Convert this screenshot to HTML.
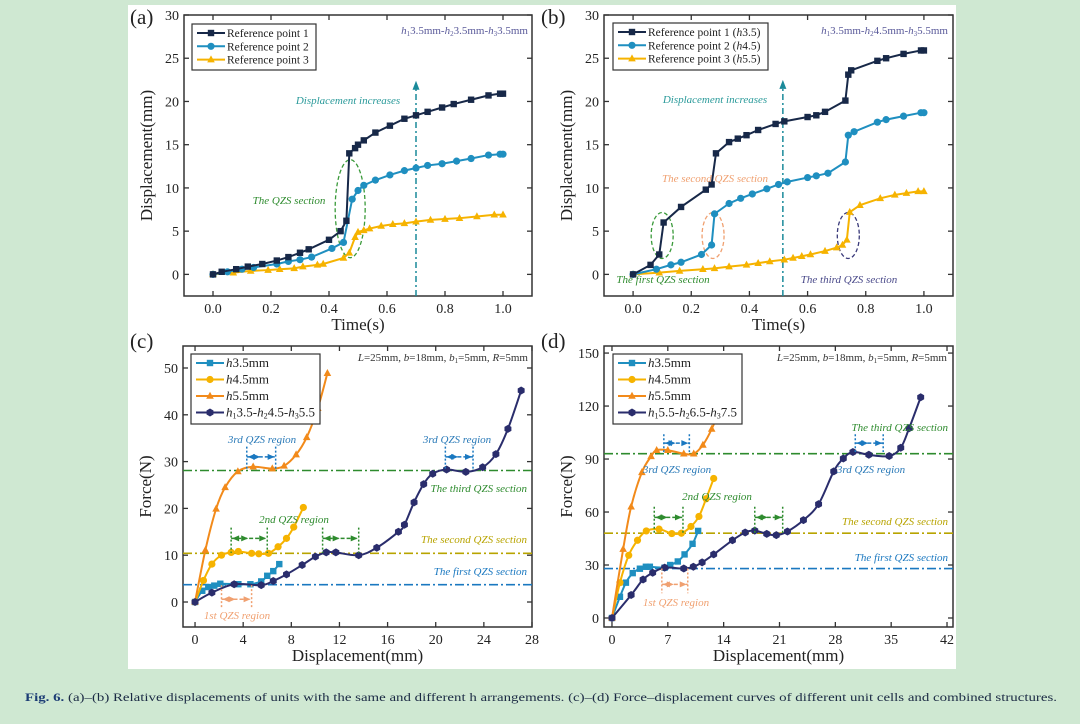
<!DOCTYPE html>
<html><head><meta charset="utf-8">
<style>
html,body{margin:0;padding:0;background:#cfe8d2;}
svg{display:block;font-family:"Liberation Serif",serif;}
</style></head>
<body>
<svg id="fig" width="1080" height="724" viewBox="0 0 1080 724" xmlns="http://www.w3.org/2000/svg">
<rect x="0" y="0" width="1080" height="724" fill="#cfe8d2"/>
<rect x="128" y="5" width="828" height="664" fill="#ffffff"/>
<text x="25" y="701" font-size="12" fill="#1b2a44" textLength="1032" lengthAdjust="spacingAndGlyphs"><tspan font-weight="bold" fill="#1d3d75">Fig. 6.</tspan>  (a)–(b) Relative displacements of units with the same and different h arrangements. (c)–(d) Force–displacement curves of different unit cells and combined structures.</text>
<g id="layer"></g>
</svg>
<script>
// ---------- Panel (a) data ----------
const aT1=[0,0.03,0.08,0.12,0.17,0.22,0.26,0.3,0.33,0.4,0.44,0.46,0.47,0.49,0.5,0.52,0.56,0.61,0.66,0.7,0.74,0.79,0.83,0.89,0.95,0.99,1.0];
const aY1=[0,0.3,0.6,0.9,1.2,1.6,2.0,2.5,2.9,4.0,5.0,6.2,14.0,14.6,15.0,15.5,16.4,17.2,18.0,18.4,18.8,19.3,19.7,20.2,20.7,20.9,20.9];
const aT2=[0,0.05,0.1,0.14,0.22,0.26,0.3,0.34,0.41,0.45,0.48,0.5,0.52,0.56,0.61,0.66,0.7,0.74,0.79,0.84,0.89,0.95,0.99,1.0];
const aY2=[0,0.3,0.6,0.8,1.2,1.5,1.7,2.0,3.0,3.7,8.7,9.7,10.3,10.9,11.5,12.0,12.3,12.6,12.8,13.1,13.4,13.8,13.9,13.9];
const aT3=[0,0.07,0.13,0.19,0.23,0.28,0.31,0.36,0.38,0.45,0.47,0.49,0.5,0.52,0.54,0.58,0.62,0.66,0.7,0.75,0.8,0.85,0.91,0.97,1.0];
const aY3=[0,0.2,0.4,0.5,0.6,0.7,0.9,1.1,1.2,1.9,2.5,4.3,4.9,5.1,5.3,5.6,5.8,5.9,6.1,6.3,6.4,6.5,6.7,6.9,6.9];
// ---------- Panel (b) data ----------
const bT1=[0,0.06,0.09,0.105,0.165,0.25,0.27,0.285,0.33,0.36,0.39,0.43,0.49,0.52,0.6,0.63,0.66,0.73,0.74,0.75,0.84,0.87,0.93,0.99,1.0];
const bY1=[0,1.1,2.3,6.0,7.8,9.8,10.4,14.0,15.3,15.7,16.1,16.7,17.4,17.7,18.2,18.4,18.8,20.1,23.1,23.6,24.7,25.0,25.5,25.9,25.9];
const bT2=[0,0.08,0.13,0.165,0.235,0.27,0.28,0.33,0.37,0.41,0.46,0.5,0.53,0.6,0.63,0.67,0.73,0.74,0.76,0.84,0.87,0.93,0.99,1.0];
const bY2=[0,0.6,1.1,1.4,2.3,3.4,7.0,8.2,8.8,9.3,9.9,10.4,10.7,11.2,11.4,11.7,13.0,16.1,16.5,17.6,17.9,18.3,18.7,18.7];
const bT3=[0,0.09,0.16,0.24,0.28,0.33,0.39,0.43,0.47,0.52,0.55,0.58,0.61,0.66,0.7,0.72,0.735,0.745,0.78,0.85,0.9,0.94,0.98,1.0];
const bY3=[0,0.2,0.4,0.6,0.7,0.9,1.1,1.3,1.5,1.7,1.9,2.1,2.3,2.7,3.1,3.4,4.0,7.2,8.0,8.8,9.2,9.4,9.6,9.6];
// ---------- Panel (c) data ----------
const cX1=[0,0.6,1.1,1.6,2.1,3.6,4.6,5.5,6.0,6.5,7.0];
const cF1=[0,2.4,3.2,3.5,3.9,3.8,3.8,4.4,5.6,6.6,8.1];
const cX2=[0,0.7,1.4,2.2,3.0,3.6,4.7,5.3,6.1,6.9,7.6,8.2,9.0];
const cF2=[0,4.6,8.1,10.0,10.6,10.8,10.4,10.3,10.4,11.8,13.6,16.0,20.2];
const cX3=[0,0.86,1.75,2.5,3.56,4.83,6.42,7.4,8.4,9.28,10.2,11.0];
const cF3=[0,11.1,19.9,24.5,27.9,28.9,28.5,29.1,31.5,35.2,41.4,48.9];
const cX4=[0,1.4,3.25,5.5,6.5,7.6,8.9,10.0,10.9,11.7,13.6,15.1,16.9,17.4,18.2,19.0,19.75,20.9,22.5,23.9,25.0,26.0,27.1];
const cF4=[0,2.0,3.8,3.6,4.5,5.9,7.9,9.7,10.6,10.6,10.0,11.6,15.0,16.5,21.3,25.2,27.4,28.3,27.8,28.8,31.6,37.0,45.2];
const cSections=[3.7,10.4,28.1];
// ---------- Panel (d) data ----------
const dX1=[0,1.0,1.75,2.6,3.5,4.25,4.75,6.6,7.3,8.25,9.1,10.1,10.8];
const dF1=[0,12,20,25.4,27.9,29,29,28.5,30,32,36,42,49.3];
const dX2=[0,1.0,2.1,3.2,4.3,5.9,7.5,8.7,9.9,10.9,11.8,12.75];
const dF2=[0,20,35.5,44,49.3,50.3,47.8,48,51.8,57.5,67.5,79];
const dX3=[0,1.4,2.4,3.75,4.9,5.6,7.0,9.0,10.25,11.4,12.5,13.75,14.8];
const dF3=[0,39,63,82.5,91.5,95,95,93,93,98,107,121,139.5];
const dX4=[0,2.4,3.9,5.1,6.6,9.0,10.2,11.3,12.75,15.1,16.7,17.9,19.4,20.6,22.0,24.0,25.9,27.8,29.0,30.2,32.2,34.75,36.2,37.25,38.7];
const dF4=[0,13,21.8,25.6,28.5,28,29,31.5,36,44,48.4,49.5,47.6,46.9,49,55.4,64.5,83,90.3,94,92.4,91.7,96.4,107.4,125];
const dSections=[28,48,93];
// ---------- ticks ----------
const abXTicks=[0,0.2,0.4,0.6,0.8,1.0];
const abXLabels=["0.0","0.2","0.4","0.6","0.8","1.0"];
const abYTicks=[0,5,10,15,20,25,30];
const cXTicks=[0,4,8,12,16,20,24,28];
const cYTicks=[0,10,20,30,40,50];
const dXTicks=[0,7,14,21,28,35,42];
const dYTicks=[0,30,60,90,120,150];

const NS="http://www.w3.org/2000/svg";
const layer=document.getElementById('layer');
function mk(tag,attrs,parent,name,inter){
  const e=document.createElementNS(NS,tag);
  for(const k in attrs) e.setAttribute(k,attrs[k]);
  
  
  (parent||layer).appendChild(e);return e;
}
function axes(L,R,T,B,x0,x1,y0,y1){
  return {sx:v=>L+(v-x0)/(x1-x0)*(R-L), sy:v=>B-(v-y0)/(y1-y0)*(B-T), L,R,T,B};
}
function marker(g,type,x,y,col,name){
  const s=3.2;
  if(type==='sq') mk('rect',{x:x-s,y:y-s,width:2*s,height:2*s,fill:col},g,name);
  else if(type==='ci') mk('circle',{cx:x,cy:y,r:s+0.4,fill:col},g,name);
  else if(type==='tr') mk('polygon',{points:`${x},${y-s-1} ${x-s-0.6},${y+s-0.4} ${x+s+0.6},${y+s-0.4}`,fill:col},g,name);
  else if(type==='hx'){let p=[];for(let i=0;i<6;i++){const a=Math.PI/3*i+Math.PI/6;p.push((x+(s+0.8)*Math.cos(a))+','+(y+(s+0.8)*Math.sin(a)));}mk('polygon',{points:p.join(' '),fill:col},g,name);}
}
function smoothPath(pts){
  let d='M'+pts[0][0]+','+pts[0][1];
  for(let i=0;i<pts.length-1;i++){
    const p0=pts[Math.max(0,i-1)],p1=pts[i],p2=pts[i+1],p3=pts[Math.min(pts.length-1,i+2)];
    const t=1/6;
    d+=` C${p1[0]+(p2[0]-p0[0])*t},${p1[1]+(p2[1]-p0[1])*t} ${p2[0]-(p3[0]-p1[0])*t},${p2[1]-(p3[1]-p1[1])*t} ${p2[0]},${p2[1]}`;
  }
  return d;
}
function series(ax,xs,ys,col,type,name,smooth){
  const g=mk('g',{},layer,name);
  const pts=xs.map((x,i)=>[ax.sx(x),ax.sy(ys[i])]);
  if(smooth) mk('path',{d:smoothPath(pts),fill:'none',stroke:col,'stroke-width':2},g,name+'-line');
  else mk('polyline',{points:pts.map(p=>p.join(',')).join(' '),fill:'none',stroke:col,'stroke-width':2},g,name+'-line');
  pts.forEach(p=>{marker(g,type,p[0],p[1],col,name+'-point');});
}
function text(x,y,str,opt,name){
  const t=mk('text',Object.assign({x,y,'font-size':13,fill:'#222'},opt||{}),layer,name);
  t.innerHTML=str;return t;
}
function frame(ax,xt,xl,yt,ylab,xtitle,ytitle,pfx){
  mk('rect',{x:ax.L,y:ax.T,width:ax.R-ax.L,height:ax.B-ax.T,fill:'none',stroke:'#333','stroke-width':1.5},layer,pfx+'-plot-frame');
  xt.forEach((v,i)=>{const x=ax.sx(v);
    mk('line',{x1:x,y1:ax.B,x2:x,y2:ax.B-5,stroke:'#333','stroke-width':1.3},layer,pfx+'-x-tick');
    mk('line',{x1:x,y1:ax.T,x2:x,y2:ax.T+5,stroke:'#333','stroke-width':1.3},layer,pfx+'-x-tick-top');
    text(x,ax.B+17,xl[i],{'text-anchor':'middle','font-size':14},pfx+'-x-tick-label');});
  yt.forEach((v,i)=>{const y=ax.sy(v);
    mk('line',{x1:ax.L,y1:y,x2:ax.L+5,y2:y,stroke:'#333','stroke-width':1.3},layer,pfx+'-y-tick');
    mk('line',{x1:ax.R,y1:y,x2:ax.R-5,y2:y,stroke:'#333','stroke-width':1.3},layer,pfx+'-y-tick-right');
    text(ax.L-5,y+5,ylab[i],{'text-anchor':'end','font-size':14},pfx+'-y-tick-label');});
  text((ax.L+ax.R)/2,ax.B+34,xtitle,{'text-anchor':'middle','font-size':17},pfx+'-x-axis-title');
  const cy=(ax.T+ax.B)/2;
  text(0,0,ytitle,{'text-anchor':'middle','font-size':17,transform:`translate(${ax.L-32},${cy}) rotate(-90)`},pfx+'-y-axis-title');
}
function legend(x,y,w,h,items,pfx,fs){
  mk('rect',{x,y,width:w,height:h,fill:'#fff',stroke:'#333','stroke-width':1.2},layer,pfx+'-legend-box');
  items.forEach((it,i)=>{const yy=y+9+i*(fs?16.5:13.3);
    mk('line',{x1:x+5,y1:yy,x2:x+33,y2:yy,stroke:it[1],'stroke-width':2},layer,pfx+'-legend-line');
    marker(layer,it[2],x+19,yy,it[1],pfx+'-legend-marker');
    text(x+35,yy+4,it[0],{'font-size':fs||11.5,fill:'#222'},pfx+'-legend-entry');});
}
const NAVY='#172848',BLUE='#1f8fc0',YEL='#f6b300',ORG='#f28a1a',CNAVY='#2a2d6c';
const tealTxt='#2a9a9a',grn='#2e8b2e',orgTxt='#f0a070',purp='#4a4a8a';
function dashLine(ax,x,ytop,col,name){
  mk('line',{x1:ax.sx(x),y1:ax.B,x2:ax.sx(x),y2:ax.sy(ytop)+6,stroke:col,'stroke-width':1.5,'stroke-dasharray':'6 3 2 3'},layer,name);
  const X=ax.sx(x),Y=ax.sy(ytop);
  mk('polygon',{points:`${X},${Y} ${X-3.5},${Y+9} ${X+3.5},${Y+9}`,fill:col},layer,name+'-head');
}
function ellipse(ax,cx,cy,rx,ry,col,name){
  mk('ellipse',{cx:ax.sx(cx),cy:ax.sy(cy),rx:rx,ry:ry,fill:'none',stroke:col,'stroke-width':1.3,'stroke-dasharray':'4 2.5'},layer,name);
}

// ===== Panel (a) =====
const A=axes(184,532,15,296,-0.1,1.1,-2.5,30);
frame(A,abXTicks,abXLabels,abYTicks,abYTicks.map(String),'Time(s)','Displacement(mm)','a');
text(130,24,'(a)',{'font-size':21},'panel-label-a');
dashLine(A,0.7,22.4,'#1a8a9a','a-displacement-arrow');
ellipse(A,0.473,7.6,15,49,'#3a9a3a','a-qzs-ellipse');
series(A,aT3,aY3,YEL,'tr','a-reference-point-3');
series(A,aT2,aY2,BLUE,'ci','a-reference-point-2');
series(A,aT1,aY1,NAVY,'sq','a-reference-point-1');
text(348,104,'Displacement increases',{'font-size':11,'font-style':'italic',fill:tealTxt,'text-anchor':'middle'},'a-displacement-increases-label');
text(289,204,'The QZS section',{'font-size':11,'font-style':'italic',fill:grn,'text-anchor':'middle'},'a-qzs-section-label');
text(528,34,'<tspan font-style="italic">h</tspan><tspan font-size="7" dy="2">1</tspan><tspan dy="-2">3.5mm-</tspan><tspan font-style="italic">h</tspan><tspan font-size="7" dy="2">2</tspan><tspan dy="-2">3.5mm-</tspan><tspan font-style="italic">h</tspan><tspan font-size="7" dy="2">3</tspan><tspan dy="-2">3.5mm</tspan>',{'font-size':11,fill:'#5a5a9a','text-anchor':'end'},'a-config-label');
legend(192,24,124,46,[['Reference point 1',NAVY,'sq'],['Reference point 2',BLUE,'ci'],['Reference point 3',YEL,'tr']],'a');

// ===== Panel (b) =====
const Bx=axes(604,953,15,296,-0.1,1.1,-2.5,30);
frame(Bx,abXTicks,abXLabels,abYTicks,abYTicks.map(String),'Time(s)','Displacement(mm)','b');
text(541,24,'(b)',{'font-size':21},'panel-label-b');
dashLine(Bx,0.515,22.5,'#1a8a9a','b-displacement-arrow');
ellipse(Bx,0.1,4.5,11,23,'#3a9a3a','b-first-qzs-ellipse');
ellipse(Bx,0.275,4.5,11,23,'#f0a070','b-second-qzs-ellipse');
ellipse(Bx,0.74,4.5,11,23,'#3a3a7a','b-third-qzs-ellipse');
series(Bx,bT3,bY3,YEL,'tr','b-reference-point-3');
series(Bx,bT2,bY2,BLUE,'ci','b-reference-point-2');
series(Bx,bT1,bY1,NAVY,'sq','b-reference-point-1');
text(715,103,'Displacement increases',{'font-size':11,'font-style':'italic',fill:tealTxt,'text-anchor':'middle'},'b-displacement-increases-label');
text(715,182,'The second QZS section',{'font-size':11,'font-style':'italic',fill:orgTxt,'text-anchor':'middle'},'b-second-qzs-label');
text(663,283,'The first QZS section',{'font-size':11,'font-style':'italic',fill:grn,'text-anchor':'middle'},'b-first-qzs-label');
text(849,283,'The third QZS section',{'font-size':11,'font-style':'italic',fill:purp,'text-anchor':'middle'},'b-third-qzs-label');
text(948,34,'<tspan font-style="italic">h</tspan><tspan font-size="7" dy="2">1</tspan><tspan dy="-2">3.5mm-</tspan><tspan font-style="italic">h</tspan><tspan font-size="7" dy="2">2</tspan><tspan dy="-2">4.5mm-</tspan><tspan font-style="italic">h</tspan><tspan font-size="7" dy="2">3</tspan><tspan dy="-2">5.5mm</tspan>',{'font-size':11,fill:'#5a5a9a','text-anchor':'end'},'b-config-label');
legend(613,23,155,47,[['Reference point 1 (<tspan font-style="italic">h</tspan>3.5)',NAVY,'sq'],['Reference point 2 (<tspan font-style="italic">h</tspan>4.5)',BLUE,'ci'],['Reference point 3 (<tspan font-style="italic">h</tspan>5.5)',YEL,'tr']],'b');

// ===== helpers for c/d =====
function hline(ax,y,col,name){
  mk('line',{x1:ax.L,y1:ax.sy(y),x2:ax.R,y2:ax.sy(y),stroke:col,'stroke-width':1.6,'stroke-dasharray':'9 3 2 3'},layer,name);
}
function bracket(ax,x1,x2,ytop,ybot,yarr,col,name){
  [x1,x2].forEach(x=>mk('line',{x1:ax.sx(x),y1:ax.sy(ytop),x2:ax.sx(x),y2:ax.sy(ybot),stroke:col,'stroke-width':1.5,'stroke-dasharray':'2 2'},layer,name+'-edge'));
  const X1=ax.sx(x1),X2=ax.sx(x2),Y=ax.sy(yarr),M=(X1+X2)/2;
  mk('line',{x1:X1,y1:Y,x2:X2,y2:Y,stroke:col,'stroke-width':1.5,'stroke-dasharray':'4 2'},layer,name+'-span');
  mk('polygon',{points:`${X1+1},${Y} ${X1+8},${Y-3} ${X1+8},${Y+3}`,fill:col},layer,name+'-arrow-left');
  mk('polygon',{points:`${X2-1},${Y} ${X2-8},${Y-3} ${X2-8},${Y+3}`,fill:col},layer,name+'-arrow-right');
  mk('polygon',{points:`${M-1},${Y} ${M-8},${Y-3} ${M-8},${Y+3}`,fill:col},layer,name+'-arrow-mid');
}
function it(x,y,s,col,anchor,name){text(x,y,s,{'font-size':11,'font-style':'italic',fill:col,'text-anchor':anchor||'middle'},name);}
const paramTxt='<tspan font-style="italic">L</tspan>=25mm, <tspan font-style="italic">b</tspan>=18mm, <tspan font-style="italic">b</tspan><tspan font-size="7" dy="2">1</tspan><tspan dy="-2">=5mm, </tspan><tspan font-style="italic">R</tspan>=5mm';

// ===== Panel (c) =====
const C=axes(183,532,346,627,-1,28,-5.34,54.7);
frame(C,cXTicks,cXTicks.map(String),cYTicks,cYTicks.map(String),'Displacement(mm)','Force(N)','c');
text(130,348,'(c)',{'font-size':21},'panel-label-c');
hline(C,cSections[2],'#2e8b2e','c-third-qzs-line');
hline(C,cSections[1],'#b8a400','c-second-qzs-line');
hline(C,cSections[0],'#1a78c0','c-first-qzs-line');
series(C,cX1,cF1,BLUE,'sq','c-h3.5-series',true);
series(C,cX2,cF2,YEL,'ci','c-h4.5-series',true);
series(C,cX3,cF3,ORG,'tr','c-h5.5-series',true);
series(C,cX4,cF4,CNAVY,'hx','c-combined-series',true);
bracket(C,4.3,6.7,33.2,28.3,31.0,'#1a78c0','c-3rd-qzs-bracket-1');
bracket(C,20.8,23.1,33.2,28.3,31.0,'#1a78c0','c-3rd-qzs-bracket-2');
bracket(C,3.0,6.0,15.9,10.5,13.6,'#2e8b2e','c-2nd-qzs-bracket-1');
bracket(C,10.6,13.6,15.9,10.5,13.6,'#2e8b2e','c-2nd-qzs-bracket-2');
bracket(C,2.2,4.7,3.6,-1.5,0.6,'#f0a070','c-1st-qzs-bracket');
it(262,443,'3rd QZS region','#2a7ab8','middle','c-3rd-qzs-label-1');
it(457,443,'3rd QZS region','#2a7ab8','middle','c-3rd-qzs-label-2');
it(294,523,'2nd QZS region','#2e8b2e','middle','c-2nd-qzs-label');
it(237,619,'1st QZS region','#f0a070','middle','c-1st-qzs-label');
it(527,492,'The third QZS section','#2e8b2e','end','c-third-qzs-section-label');
it(527,543,'The second QZS section','#b8a400','end','c-second-qzs-section-label');
it(527,575,'The first QZS section','#1a78c0','end','c-first-qzs-section-label');
text(528,361,paramTxt,{'font-size':11,fill:'#333','text-anchor':'end'},'c-parameters-label');
legend(191,354,129,70,[['<tspan font-style="italic">h</tspan>3.5mm',BLUE,'sq'],['<tspan font-style="italic">h</tspan>4.5mm',YEL,'ci'],['<tspan font-style="italic">h</tspan>5.5mm',ORG,'tr'],['<tspan font-style="italic">h</tspan><tspan font-size="8" dy="2">1</tspan><tspan dy="-2">3.5-</tspan><tspan font-style="italic">h</tspan><tspan font-size="8" dy="2">2</tspan><tspan dy="-2">4.5-</tspan><tspan font-style="italic">h</tspan><tspan font-size="8" dy="2">3</tspan><tspan dy="-2">5.5</tspan>',CNAVY,'hx']],'c',13);

// ===== Panel (d) =====
const D=axes(604,953,346,627,-1,42.75,-5.1,154);
frame(D,dXTicks,dXTicks.map(String),dYTicks,dYTicks.map(String),'Displacement(mm)','Force(N)','d');
text(541,348,'(d)',{'font-size':21},'panel-label-d');
hline(D,dSections[2],'#2e8b2e','d-third-qzs-line');
hline(D,dSections[1],'#b8a400','d-second-qzs-line');
hline(D,dSections[0],'#1a78c0','d-first-qzs-line');
series(D,dX1,dF1,BLUE,'sq','d-h3.5-series',true);
series(D,dX2,dF2,YEL,'ci','d-h4.5-series',true);
series(D,dX3,dF3,ORG,'tr','d-h5.5-series',true);
series(D,dX4,dF4,CNAVY,'hx','d-combined-series',true);
bracket(D,6.5,9.7,104,94,99,'#1a78c0','d-3rd-qzs-bracket-1');
bracket(D,30.5,34.0,104,94,99,'#1a78c0','d-3rd-qzs-bracket-2');
bracket(D,5.3,8.9,63,48,57,'#2e8b2e','d-2nd-qzs-bracket-1');
bracket(D,17.9,21.4,63,48,57,'#2e8b2e','d-2nd-qzs-bracket-2');
bracket(D,6.25,9.5,28,14,19,'#f0a070','d-1st-qzs-bracket');
it(677,473,'3rd QZS region','#2a7ab8','middle','d-3rd-qzs-label-1');
it(871,473,'3rd QZS region','#2a7ab8','middle','d-3rd-qzs-label-2');
it(717,500,'2nd QZS region','#2e8b2e','middle','d-2nd-qzs-label');
it(676,606,'1st QZS region','#f0a070','middle','d-1st-qzs-label');
it(948,431,'The third QZS section','#2e8b2e','end','d-third-qzs-section-label');
it(948,525,'The second QZS section','#b8a400','end','d-second-qzs-section-label');
it(948,561,'The first QZS section','#1a78c0','end','d-first-qzs-section-label');
text(947,361,paramTxt,{'font-size':11,fill:'#333','text-anchor':'end'},'d-parameters-label');
legend(613,354,129,70,[['<tspan font-style="italic">h</tspan>3.5mm',BLUE,'sq'],['<tspan font-style="italic">h</tspan>4.5mm',YEL,'ci'],['<tspan font-style="italic">h</tspan>5.5mm',ORG,'tr'],['<tspan font-style="italic">h</tspan><tspan font-size="8" dy="2">1</tspan><tspan dy="-2">5.5-</tspan><tspan font-style="italic">h</tspan><tspan font-size="8" dy="2">2</tspan><tspan dy="-2">6.5-</tspan><tspan font-style="italic">h</tspan><tspan font-size="8" dy="2">3</tspan><tspan dy="-2">7.5</tspan>',CNAVY,'hx']],'d',13);
</script>
</body></html>
